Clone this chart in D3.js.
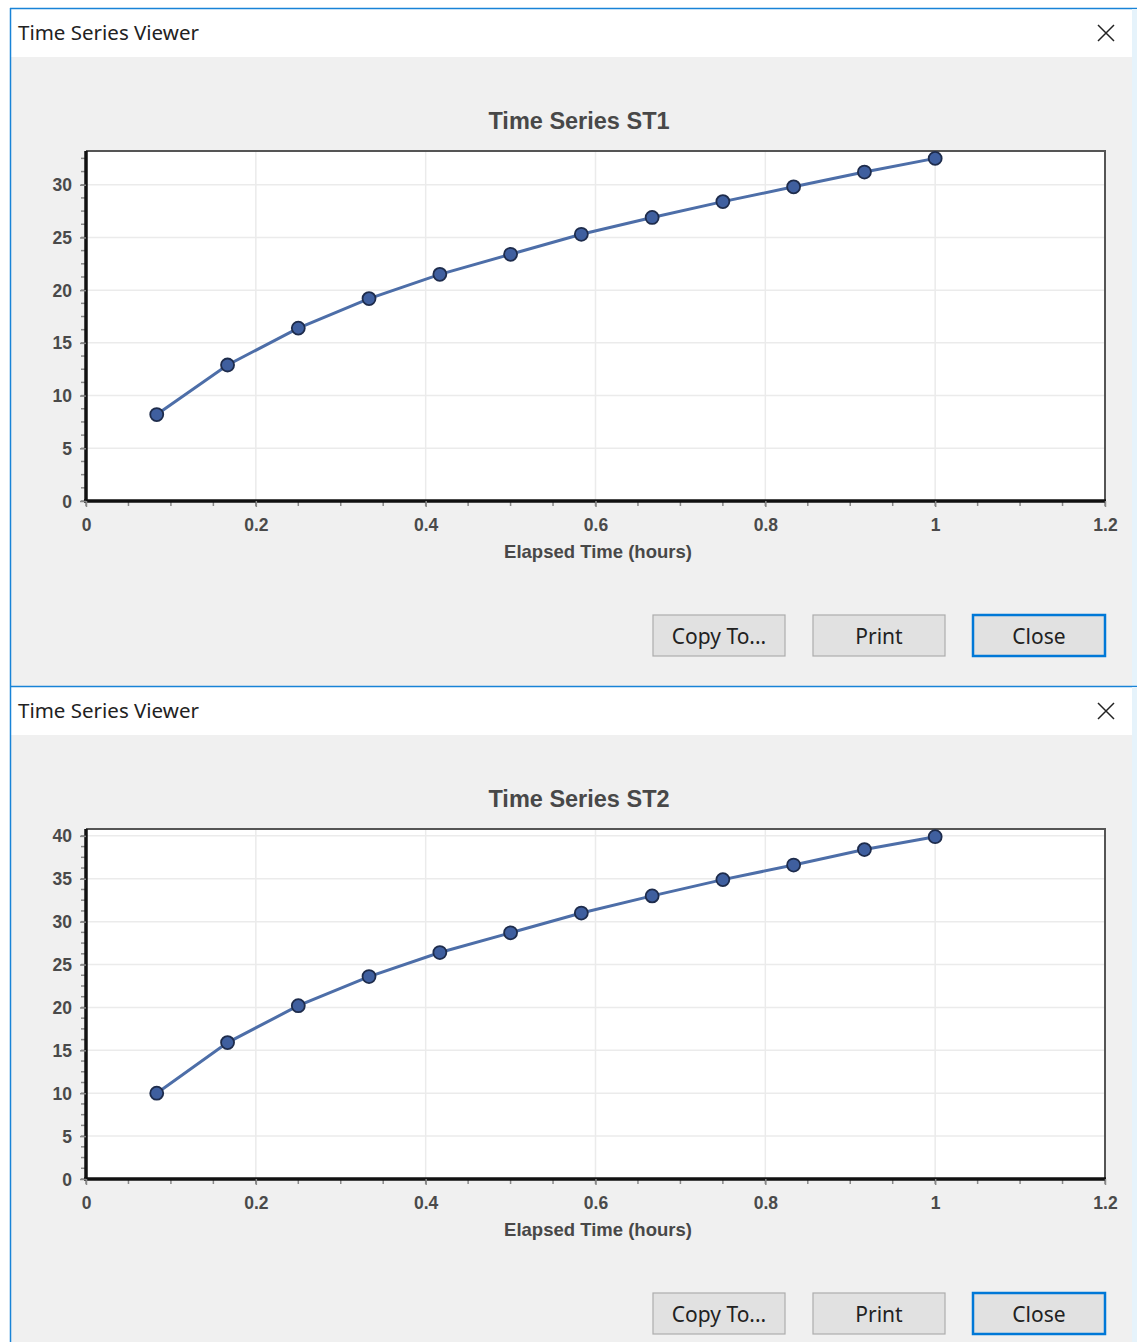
<!DOCTYPE html>
<html>
<head>
<meta charset="utf-8">
<script src="https://cdn.jsdelivr.net/npm/d3@7"></script>
<style>
  body { margin: 0; background: #fff; }
  svg text { font-family: "Liberation Sans", Arial, sans-serif; }
</style>
</head>
<body>
<div id="chart"></div>
<script>
// elapsed time (hours), 5 minute steps
const times = [0.0833, 0.1667, 0.25, 0.3333, 0.4167, 0.5, 0.5833, 0.6667, 0.75, 0.8333, 0.9167, 1.0]
const st1 = [8.2, 12.9, 16.4, 19.2, 21.5, 23.4, 25.3, 26.9, 28.4, 29.8, 31.2, 32.5]
const st2 = [10.0, 15.9, 20.2, 23.6, 26.4, 28.7, 31.0, 33.0, 34.9, 36.6, 38.4, 39.9]
const xTicks = [0, 0.2, 0.4, 0.6, 0.8, 1, 1.2]
const yTicks1 = [0, 5, 10, 15, 20, 25, 30]
const yTicks2 = [0, 5, 10, 15, 20, 25, 30, 35, 40]
const buttons = ['Copy To...', 'Print', 'Close']

const width = 1137, height = 1342

const svg = d3.select('#chart')
  .append('svg')
  .attr('width', width)
  .attr('height', height)

// one dialog window
function drawWindow(top, title, values, yMax, yTicks) {
  const g = svg.append('g').attr('transform', `translate(0,${top})`)

  // frame
  g.append('rect').attr('x', 10).attr('y', 0).attr('width', 1122).attr('height', 678)
    .attr('fill', '#f0f0f0')
  g.append('rect').attr('x', 10).attr('y', 0).attr('width', 1122).attr('height', 49)
    .attr('fill', '#fff')
  g.append('line').attr('x1', 10).attr('x2', 1137).attr('y1', 0.5).attr('y2', 0.5)
    .attr('stroke', '#1883d7').attr('stroke-width', 1.5)
  g.append('line').attr('x1', 10.5).attr('x2', 10.5).attr('y1', 0).attr('y2', 678)
    .attr('stroke', '#1883d7').attr('stroke-width', 1.5)
  g.append('rect').attr('x', 1132).attr('y', 1).attr('width', 5).attr('height', 677)
    .attr('fill', '#e6f3fb')

  g.append('text').attr('x', 18).attr('y', 32)
    .style('font-family', '"Noto Sans", "Open Sans", sans-serif')
    .style('font-size', '20.5px').attr('fill', '#222')
    .text('Time Series Viewer')

  // close cross
  g.append('path').attr('d', 'M1098,17 L1114,33 M1114,17 L1098,33')
    .attr('stroke', '#222').attr('stroke-width', 1.5)

  const x = d3.scaleLinear().domain([0, 1.2]).range([86, 1105])
  const y = d3.scaleLinear().domain([0, yMax]).range([493, 143])

  // chart title
  g.append('text').attr('x', 579).attr('y', 121).attr('text-anchor', 'middle')
    .style('font-size', '23.5px').style('font-weight', 'bold').attr('fill', '#484848')
    .text(title)

  // plot area
  g.append('rect').attr('x', x(0)).attr('y', y(yMax))
    .attr('width', x(1.2) - x(0)).attr('height', y(0) - y(yMax))
    .attr('fill', '#fff')

  // grid
  g.append('g').selectAll('line').data(xTicks.slice(1, -1)).enter().append('line')
    .attr('x1', d => x(d)).attr('x2', d => x(d))
    .attr('y1', y(yMax)).attr('y2', y(0))
    .attr('stroke', '#ebebeb').attr('stroke-width', 1.5)
  g.append('g').selectAll('line').data(yTicks.slice(1)).enter().append('line')
    .attr('x1', x(0)).attr('x2', x(1.2))
    .attr('y1', d => y(d)).attr('y2', d => y(d))
    .attr('stroke', '#ebebeb').attr('stroke-width', 1.5)

  // top / right border
  g.append('path')
    .attr('d', `M${x(0)},${y(yMax)} H${x(1.2)} V${y(0)}`)
    .attr('fill', 'none').attr('stroke', '#555').attr('stroke-width', 2)

  // minor ticks
  const xMinor = d3.range(0, 1.2001, 0.05)
  g.append('g').selectAll('line').data(xMinor).enter().append('line')
    .attr('x1', d => x(d)).attr('x2', d => x(d))
    .attr('y1', y(0)).attr('y2', y(0) + 5)
    .attr('stroke', '#888').attr('stroke-width', 1.5)
  const yMinor = d3.range(0, yMax, 1.25)
  g.append('g').selectAll('line').data(yMinor).enter().append('line')
    .attr('x1', x(0) - 5).attr('x2', x(0))
    .attr('y1', d => y(d)).attr('y2', d => y(d))
    .attr('stroke', '#888').attr('stroke-width', 1.5)

  // axes
  const xAxis = g.append('g').attr('transform', `translate(0,${y(0)})`)
    .call(d3.axisBottom(x).tickValues(xTicks).tickFormat(d3.format('')).tickSize(6).tickPadding(12))
  const yAxis = g.append('g').attr('transform', `translate(${x(0)},0)`)
    .call(d3.axisLeft(y).tickValues(yTicks).tickSize(6).tickPadding(8))
  for (const ax of [xAxis, yAxis]) {
    ax.select('.domain').attr('stroke', '#111').attr('stroke-width', 3.5)
    ax.selectAll('.tick line').attr('stroke', '#888').attr('stroke-width', 1.5)
    ax.selectAll('.tick text').style('font-size', '17.5px').style('font-weight', 'bold')
      .attr('fill', '#4a4a4a')
  }
  yAxis.selectAll('.tick text').attr('dy', '0.35em')
  yAxis.select('.domain').attr('d', `M${0},${y(yMax)}V${y(0)}`)
  xAxis.select('.domain').attr('d', `M${x(0) - 2},0H${x(1.2) + 1}`)

  g.append('text').attr('x', 598).attr('y', 550).attr('text-anchor', 'middle')
    .style('font-size', '18.5px').style('font-weight', 'bold').attr('fill', '#484848')
    .text('Elapsed Time (hours)')

  // series
  const pts = times.map((t, i) => [t, values[i]])
  g.append('path').datum(pts)
    .attr('d', d3.line().x(d => x(d[0])).y(d => y(d[1])))
    .attr('fill', 'none').attr('stroke', '#4d6ea8').attr('stroke-width', 3)
  g.append('g').selectAll('circle').data(pts).enter().append('circle')
    .attr('cx', d => x(d[0])).attr('cy', d => y(d[1])).attr('r', 6.5)
    .attr('fill', '#3f5f9f').attr('stroke', '#1e2c4c').attr('stroke-width', 1.8)

  // buttons
  const bx = d3.scaleBand().domain(buttons).range([653, 1105]).paddingInner(0.175)
  const bg = g.append('g').selectAll('g').data(buttons).enter().append('g')
  bg.append('rect')
    .attr('x', d => bx(d)).attr('y', 607).attr('width', bx.bandwidth()).attr('height', 41)
    .attr('fill', '#e1e1e1')
    .attr('stroke', d => d === 'Close' ? '#0078d7' : '#adadad')
    .attr('stroke-width', d => d === 'Close' ? 2.5 : 1.2)
  bg.append('text')
    .attr('x', d => bx(d) + bx.bandwidth() / 2).attr('y', 636).attr('text-anchor', 'middle')
    .style('font-family', '"Noto Sans", "Open Sans", sans-serif')
    .style('font-size', '21px').attr('fill', '#222')
    .text(d => d)
}

drawWindow(8, 'Time Series ST1', st1, 33.2, yTicks1)
drawWindow(686, 'Time Series ST2', st2, 40.8, yTicks2)
</script>
</body>
</html>
